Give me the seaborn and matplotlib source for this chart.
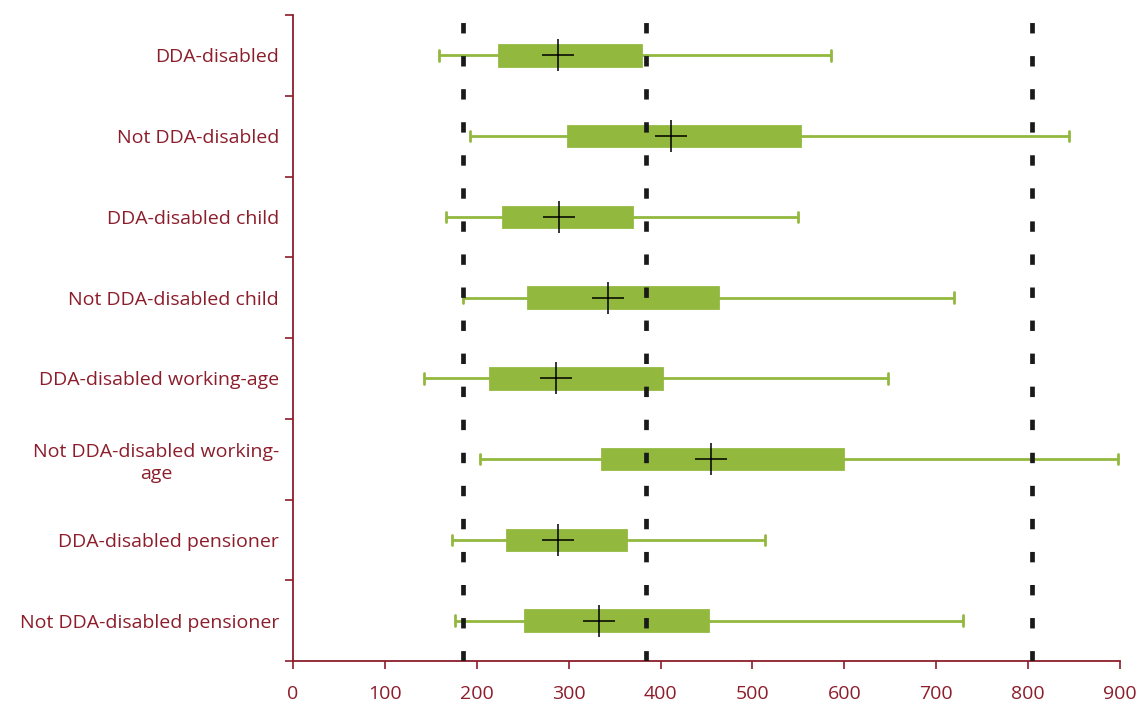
import matplotlib.pyplot as plt
import seaborn as sns
import pandas as pd

categories = [
    "DDA-disabled",
    "Not DDA-disabled",
    "DDA-disabled child",
    "Not DDA-disabled child",
    "DDA-disabled working-age",
    "Not DDA-disabled working-\nage",
    "DDA-disabled pensioner",
    "Not DDA-disabled pensioner",
]
low = [159, 193, 166, 185, 143, 204, 173, 176]
q1 = [224, 299, 228, 256, 214, 336, 233, 252]
centre = [288, 411, 289, 343, 286, 455, 288, 333]
q3 = [379, 552, 369, 462, 402, 599, 362, 452]
high = [586, 844, 550, 719, 648, 898, 514, 729]
thresholds = [185, 384, 804]

green = "#93B83E"
maroon = "#8C1D2B"

# long table: five values per group so the box stats land exactly on them
rows = []
for cat, a, b, c, d, e in zip(categories, low, q1, centre, q3, high):
    for v in (a, b, c, d, e):
        rows.append({"group": cat, "value": v})
df = pd.DataFrame(rows)

sns.set_style("white")
plt.rcParams['font.family'] = ['Open Sans', 'DejaVu Sans']

fig = plt.figure(figsize=(11.42, 7.02), dpi=100)
ax = fig.add_axes([0.2566, 0.0584, 0.7241, 0.9202])

sns.boxplot(data=df, x="value", y="group", order=categories, orient="h",
            whis=(0, 100), width=0.256, color=green, linecolor=green,
            saturation=1, linewidth=2.0, showfliers=False,
            medianprops={"visible": False}, ax=ax)

sns.pointplot(x=centre, y=categories, order=categories, orient="h",
              linestyle="none", marker="+", markersize=23, markeredgewidth=1.1,
              color="black", errorbar=None, ax=ax, zorder=5)

for t in thresholds:
    ax.axvline(t, color="#1a1a1a", lw=3.4, linestyle=(0, (2.2, 4.8)), zorder=4)

ax.set_xlim(0, 900)
ax.set_ylim(len(categories) - 0.5, -0.5)
ax.set_xticks(range(0, 901, 100))
ax.set_xlabel("")
ax.set_ylabel("")

ax.set_yticks([i - 0.5 for i in range(len(categories) + 1)], minor=True)
ax.tick_params(axis="y", which="major", length=0, pad=10, labelsize=14, labelcolor=maroon)
ax.tick_params(axis="y", which="minor", length=6, width=1.2, color=maroon, left=True)
ax.tick_params(axis="x", length=6, width=1.2, color=maroon, pad=11, labelsize=14,
               labelcolor=maroon, bottom=True)
for lab in ax.get_yticklabels():
    lab.set_multialignment("center")
    lab.set_linespacing(1.3)

sns.despine(ax=ax)
for side in ("left", "bottom"):
    ax.spines[side].set_color(maroon)
    ax.spines[side].set_linewidth(1.3)

fig.savefig("out.png", dpi=100)
